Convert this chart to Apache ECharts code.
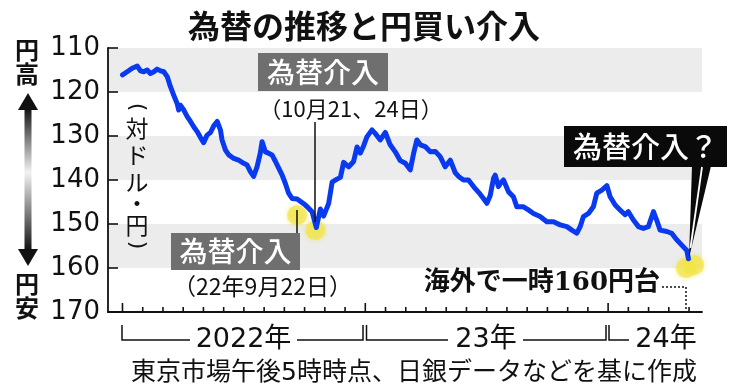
<!DOCTYPE html>
<html><head><meta charset="utf-8">
<script src="https://cdn.jsdelivr.net/npm/echarts@6/dist/echarts.min.js"></script>
<style>html,body{margin:0;padding:0;background:#fff}#c{width:740px;height:390px}</style>
</head><body><div id="c"></div>
<script>
// x = months since 1 Jan 2022, y = yen per dollar (Tokyo 5pm)
const months = [0.00,0.23,0.48,0.73,0.89,1.05,1.22,1.38,1.55,1.71,1.88,2.04,2.21,2.37,2.53,2.70,2.78,2.86,3.03,3.20,3.36,3.52,3.69,3.85,4.01,4.18,4.35,4.51,4.68,4.84,4.92,5.09,5.25,5.50,5.74,5.99,6.16,6.32,6.48,6.65,6.81,6.90,7.06,7.22,7.39,7.56,7.72,7.89,8.05,8.21,8.38,8.63,8.87,9.04,9.20,9.37,9.58,9.78,9.94,10.19,10.36,10.60,10.77,10.93,11.18,11.42,11.59,11.75,11.92,12.08,12.16,12.33,12.49,12.74,12.99,13.23,13.48,13.73,13.98,14.22,14.39,14.55,14.72,14.96,15.21,15.46,15.70,15.95,16.20,16.44,16.61,16.85,17.10,17.35,17.60,17.84,18.01,18.17,18.34,18.42,18.58,18.67,18.83,19.08,19.32,19.49,19.82,20.06,20.31,20.64,20.97,21.30,21.63,21.96,22.21,22.45,22.62,22.78,23.03,23.27,23.44,23.69,23.94,24.10,24.35,24.59,24.84,25.00,25.25,25.50,25.74,25.99,26.24,26.40,26.57,26.90,27.14,27.39,27.64,27.89,27.97];
const rates = [116.1,115.4,114.6,114.1,115.2,115.4,115.0,115.8,115.4,114.8,115.2,115.4,116.5,118.8,120.7,122.6,124.1,123.0,124.1,125.6,126.7,127.9,129.0,130.3,131.5,129.8,129.2,127.7,126.7,128.6,130.9,133.2,134.3,135.1,135.5,136.2,136.6,138.1,139.2,137.0,133.9,131.3,133.6,133.9,134.3,135.8,137.3,138.9,140.8,143.0,144.2,144.3,145.1,145.7,146.4,147.2,150.8,146.6,148.2,145.3,140.5,139.8,139.4,136.0,137.0,135.8,132.5,133.9,132.2,130.2,130.5,128.6,129.4,130.9,129.2,132.0,133.6,135.6,136.2,137.7,133.9,130.9,132.0,132.4,133.6,133.5,134.7,137.0,135.5,138.3,139.2,140.0,140.0,141.5,142.8,144.2,145.3,143.6,139.6,138.9,141.5,140.8,140.0,142.7,143.8,146.1,146.1,146.8,147.6,148.3,149.5,149.5,150.2,150.6,151.4,152.1,150.6,148.3,147.6,146.1,143.0,142.3,141.3,143.8,145.7,146.8,147.9,147.2,149.1,150.6,151.0,150.6,147.2,149.1,151.4,151.7,152.1,153.6,154.8,156.0,157.9];
const yTicks = [110, 120, 130, 140, 150, 160, 170];
const monthTicks = [0,1,2,3,4,5,6,7,8,9,10,11,12,13,14,15,16,17,18,19,20,21,22,23,24,25,26,27,28];
const yearLabels = ['2022年', '23年', '24年'];
const markerMonths = [8.63, 9.53, 27.85, 28.25];
const markerRates = [148.0, 151.4, 160.0, 159.3];

const X_MIN = -0.716, X_MAX = 28.64;
const SANS = "'DejaVu Sans','Noto Sans CJK JP',sans-serif";
const CJK = "'Noto Sans CJK JP',sans-serif";
const INK = '#111';

const chart = echarts.init(document.getElementById('c'), null, {renderer: 'canvas'});

function txt(text, x, y, size, opts) {
  opts = opts || {};
  return {type: 'text', x: x, y: y, z: 100, silent: true, rotation: opts.rot || 0,
    style: {text: text, fill: opts.fill || INK, fontSize: size, fontFamily: opts.family || CJK,
      fontWeight: opts.weight || 'normal', textAlign: opts.align || 'center', textVerticalAlign: 'middle'}};
}
function ln(x1, y1, x2, y2, opts) {
  opts = opts || {};
  return {type: 'line', z: 100, silent: true, shape: {x1: x1, y1: y1, x2: x2, y2: y2},
    style: {stroke: opts.stroke || INK, lineWidth: opts.w || 1.5, lineDash: opts.dash || null}};
}
function box(x, y, w, h, fill) {
  return {type: 'rect', z: 99, silent: true, shape: {x: x, y: y, width: w, height: h}, style: {fill: fill}};
}
function pl(points) {
  return {type: 'polyline', z: 100, silent: true, shape: {points: points}, style: {stroke: INK, lineWidth: 1.5, fill: null}};
}

const g = [];
g.push(txt('為替の推移と円買い介入', 364, 26, 32, {weight: 'bold'}));
g.push(txt('円', 27, 50, 24, {weight: 'bold'}));
g.push(txt('高', 27, 74, 24, {weight: 'bold'}));
g.push(txt('円', 27, 284, 24, {weight: 'bold'}));
g.push(txt('安', 27, 308, 24, {weight: 'bold'}));
g.push({type: 'rect', z: 99, silent: true, shape: {x: 24.5, y: 108, width: 7, height: 143},
  style: {fill: new echarts.graphic.LinearGradient(0, 0, 0, 1, [
    {offset: 0, color: '#111'}, {offset: 0.45, color: '#f2f2f2'}, {offset: 1, color: '#111'}])}});
g.push({type: 'polygon', z: 100, silent: true, shape: {points: [[28, 93], [18, 110], [38, 110]]}, style: {fill: '#111'}});
g.push({type: 'polygon', z: 100, silent: true, shape: {points: [[28, 266], [18, 249], [38, 249]]}, style: {fill: '#111'}});
g.push(txt('(', 137, 107, 22, {family: "'DejaVu Sans',sans-serif", rot: -Math.PI / 2}));
const vChars = ['対', 'ド', 'ル', '・', '円'];
const vYs = [128, 155, 182, 203, 225];
vChars.forEach((c, i) => g.push(txt(c, 137, vYs[i], 23)));
g.push(txt(')', 137, 245, 22, {family: "'DejaVu Sans',sans-serif", rot: -Math.PI / 2}));
g.push(box(258, 53, 130, 38, '#6f6f6f'));
g.push(txt('為替介入', 323, 72, 28, {fill: '#fff', weight: '500'}));
g.push(txt('（10月21、24日）', 351, 109, 22));
g.push(ln(315, 122, 315, 222));
g.push(box(171, 233, 129, 37, '#6f6f6f'));
g.push(txt('為替介入', 235.5, 251.5, 28, {fill: '#fff', weight: '500'}));
g.push(txt('（22年9月22日）', 262.5, 286, 23));
g.push(ln(297, 210, 297, 233));
g.push(box(564, 126, 163, 41, '#0a0a0a'));
g.push(txt('為替介入？', 645.5, 146.5, 29, {fill: '#fff', weight: '500'}));
g.push({type: 'polygon', z: 100, silent: true, shape: {points: [[692, 166], [711, 166], [689, 258]]}, style: {fill: '#0a0a0a'}});
g.push(ln(702, 167, 690.5, 248, {stroke: '#fff', w: 1.8}));
g.push(txt('海外で一時160円台', 660, 283, 26, {weight: 'bold', align: 'right', family: "'DejaVu Serif','Noto Sans CJK JP',serif"}));
g.push(ln(662, 287, 686, 287, {dash: [2, 2]}));
g.push(ln(686, 287, 686, 312, {dash: [2, 2]}));
const YB = 340, YT = 325;
g.push(pl([[122, YT], [122, YB], [190, YB]]));
g.push(pl([[297, YB], [363, YB], [363, YT]]));
g.push(txt(yearLabels[0], 243.5, YB, 27, {family: SANS}));
g.push(pl([[366.5, YT], [366.5, YB], [448, YB]]));
g.push(pl([[523, YB], [606, YB], [606, YT]]));
g.push(txt(yearLabels[1], 486, YB, 27, {family: SANS}));
g.push(pl([[609, YT], [609, YB], [629, YB]]));
g.push(txt(yearLabels[2], 666, YB, 27, {family: SANS}));
g.push(txt('東京市場午後5時時点、日銀データなどを基に作成', 414, 373, 25, {family: SANS}));

chart.setOption({
  animation: false,
  backgroundColor: '#fff',
  grid: {left: 108, right: 38, top: 48, bottom: 78},
  xAxis: {
    type: 'value', min: X_MIN, max: X_MAX,
    axisLine: {show: true, onZero: false, lineStyle: {color: INK, width: 1.8}},
    axisTick: {show: false}, axisLabel: {show: false}, splitLine: {show: false}
  },
  yAxis: {
    type: 'value', inverse: true, min: yTicks[0], max: yTicks[yTicks.length - 1], interval: 10,
    axisLine: {show: true, onZero: false, lineStyle: {color: INK, width: 1.8}},
    axisTick: {show: true, inside: true, length: 10, lineStyle: {color: INK, width: 1.6}},
    axisLabel: {fontSize: 26, fontFamily: "'DejaVu Sans',sans-serif", color: INK, margin: 8},
    splitLine: {show: false},
    splitArea: {show: true, areaStyle: {color: ['#ececec', '#ffffff']}}
  },
  series: [
    {
      type: 'scatter', z: 2, silent: true,
      data: markerMonths.map((m, i) => [m, markerRates[i]]),
      symbolSize: 20,
      itemStyle: {color: 'rgba(242,228,72,0.85)', shadowBlur: 5, shadowColor: 'rgba(242,228,72,0.9)'}
    },
    {
      type: 'line', z: 3, silent: true,
      data: months.map((m, i) => [m, rates[i]]),
      showSymbol: false, symbol: 'none',
      lineStyle: {color: '#0a3af0', width: 5, join: 'round', cap: 'round'}
    }
  ],
  graphic: {elements: g}
});

// monthly inward ticks on the time axis, placed through the chart's own scale
const tickEls = [];
const yBottom = yTicks[yTicks.length - 1];
monthTicks.forEach(m => {
  const p = chart.convertToPixel({gridIndex: 0}, [m, yBottom]);
  const len = (m % 12 === 0) ? 9 : 5;
  tickEls.push({type: 'line', z: 120, silent: true,
    shape: {x1: p[0], y1: p[1], x2: p[0], y2: p[1] - len}, style: {stroke: INK, lineWidth: 1.6}});
});
chart.setOption({graphic: {elements: g.concat(tickEls)}});
</script></body></html>
